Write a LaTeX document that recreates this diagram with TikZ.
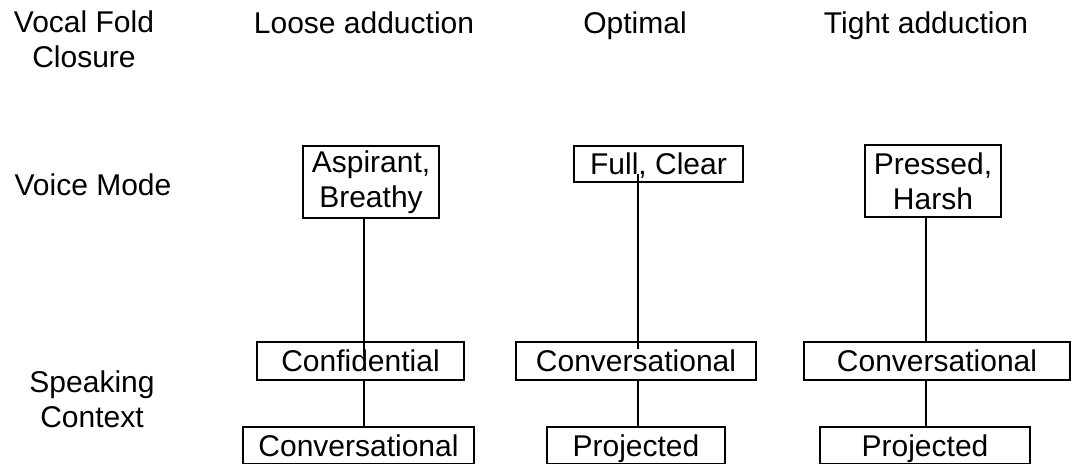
\documentclass[tikz,border=0pt]{standalone}
\usepackage{fontspec}
\setmainfont{Liberation Sans}
\usetikzlibrary{calc}
\begin{document}
\begin{tikzpicture}[x=1pt,y=-1pt,
  lbl/.style={font=\fontsize{30}{35}\selectfont, inner sep=0pt, align=center},
  box/.style={lbl, draw, line width=1.3pt},
  onebox/.style={box, text height=21.5pt, text depth=0pt},
  link/.style={line width=1.3pt}]
\useasboundingbox[fill=white] (0,0) rectangle (1073,463);
% row labels
\node[lbl] (vf) at (84,39.5) {Vocal Fold\\Closure};
\node[lbl, anchor=base] (vm) at (93,195) {Voice Mode};
\node[lbl] (sc) at (92,399.5) {Speaking\\Context};
% column headings
\node[lbl, anchor=base] (loose) at (364,33) {Loose adduction};
\node[lbl, anchor=base] (opt) at (635,33) {Optimal};
\node[lbl, anchor=base] (tight) at (926,33) {Tight adduction};
% voice mode boxes
\node[box, minimum width=136pt, minimum height=72pt] (asp) at (371,182) {Aspirant,\\Breathy};
\node[onebox, minimum width=169pt, minimum height=36pt] (full) at (658.5,164) {Full, Clear};
\node[box, minimum width=136pt, minimum height=72pt] (press) at (933,181) {Pressed,\\Harsh};
% speaking context boxes
\node[onebox, minimum width=207pt, minimum height=38pt] (conf) at (360.5,361) {Confidential};
\node[onebox, minimum width=240pt, minimum height=38pt] (conv2) at (636,361) {Conversational};
\node[onebox, minimum width=266pt, minimum height=38pt] (conv3) at (937,361) {Conversational};
\node[onebox, minimum width=231pt, minimum height=37pt] (conv1) at (358.5,445.5) {Conversational};
\node[onebox, minimum width=178pt, minimum height=37pt] (proj2) at (636,445.5) {Projected};
\node[onebox, minimum width=210pt, minimum height=37pt] (proj3) at (925,445.5) {Projected};
% connector columns
\coordinate (lx) at (364,0);
\coordinate (mx) at (638,0);
\coordinate (rx) at (926,0);
% connectors
\draw[link] (asp.south -| lx) -- ($(conf.north -| lx)+(0,15)$);
\draw[link] (conf.south -| lx) -- (conv1.north -| lx);
\draw[link] ($(full.south -| mx)+(0,-9)$) -- ($(conv2.north -| mx)+(0,8)$);
\draw[link] (conv2.south -| mx) -- (proj2.north -| mx);
\draw[link] (press.south -| rx) -- (conv3.north -| rx);
\draw[link] (conv3.south -| rx) -- (proj3.north -| rx);
\end{tikzpicture}
\end{document}
